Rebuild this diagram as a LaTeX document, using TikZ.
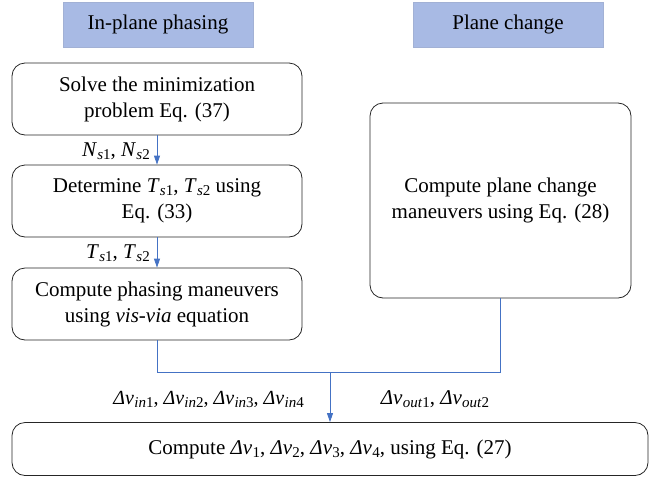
\documentclass[tikz,border=0pt]{standalone}
\usepackage{fontspec}
\setmainfont{Liberation Serif}
\usetikzlibrary{arrows.meta}
\definecolor{hdr}{RGB}{168,186,228}
\definecolor{conn}{RGB}{68,114,196}
\newcommand{\iv}[2]{\textit{#1}\kern0.3pt\raisebox{-0.32ex}{\fontsize{15}{15}\selectfont #2}}
\tikzset{
  hdrbox/.style={fill=hdr, draw=hdr!85!gray, line width=0.6pt, minimum width=190pt, minimum height=45pt, inner sep=0pt, font=\fontsize{21}{25}\selectfont},
  proc/.style={draw=black!85, rounded corners=13pt, line width=0.8pt, align=center, inner sep=0pt, font=\fontsize{21}{26}\selectfont},
  connline/.style={draw=conn, line width=0.8pt},
  arr/.style={connline, -{Triangle[length=9pt,width=6pt]}},
  lbl/.style={inner sep=0pt, font=\fontsize{21}{25}\selectfont}
}
\begin{document}
\begin{tikzpicture}[x=1pt,y=-1pt]
\useasboundingbox (0,0) rectangle (660,477);
\node[hdrbox] (h1) at (158,24.5) {In-plane phasing};
\node[hdrbox] (h2) at (508,24.5) {Plane change};
\node[proc, minimum width=290pt, minimum height=72pt] (b1) at (157,99) {Solve the minimization\\problem Eq. (37)};
\node[proc, minimum width=290pt, minimum height=72pt] (b2) at (157,201) {Determine \iv{T}{\textit{s}1}, \iv{T}{\textit{s}2} using\\Eq. (33)};
\node[proc, minimum width=290pt, minimum height=72pt] (b3) at (157,304) {Compute phasing maneuvers\\using \textit{vis-via} equation};
\node[proc, minimum width=261pt, minimum height=195pt] (r) at (500.5,200.5) {Compute plane change\\maneuvers using Eq. (28)};
\node[proc, minimum width=636pt, minimum height=53pt] (bot) at (330,449) {Compute \iv{Δv}{1}, \iv{Δv}{2}, \iv{Δv}{3}, \iv{Δv}{4}, using Eq. (27)};
\draw[arr] (b1.south) -- (b2.north);
\draw[arr] (b2.south) -- (b3.north);
\node[lbl, anchor=east] (l1) at (150,151) {\iv{N}{\textit{s}1}, \iv{N}{\textit{s}2}};
\node[lbl, anchor=east] (l2) at (150,253) {\iv{T}{\textit{s}1}, \iv{T}{\textit{s}2}};
\coordinate (j) at (330,372);
\draw[connline] (b3.south) |- (j);
\draw[connline] (r.south) |- (j);
\draw[arr] (j) -- (bot.north);
\node[lbl, anchor=east, font=\fontsize{20}{24}\selectfont] (l3) at (304,399) {\iv{Δv}{\textit{in}1}, \iv{Δv}{\textit{in}2}, \iv{Δv}{\textit{in}3}, \iv{Δv}{\textit{in}4}};
\node[lbl] (l4) at (435,399) {\iv{Δv}{\textit{out}1}, \iv{Δv}{\textit{out}2}};
\end{tikzpicture}
\end{document}
